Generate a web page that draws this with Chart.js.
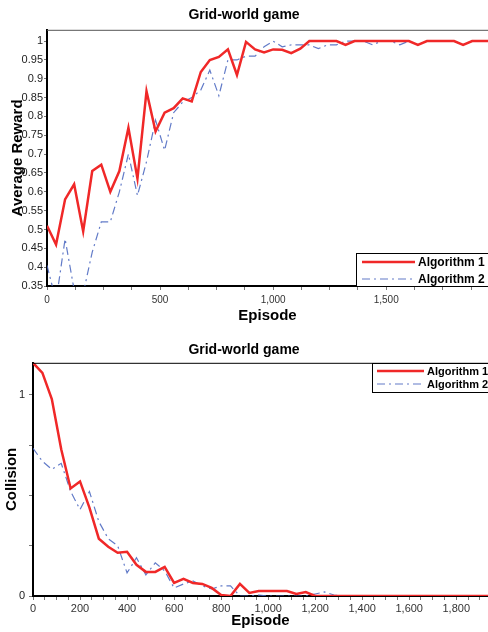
<!DOCTYPE html>
<html>
<head>
<meta charset="utf-8">
<title>Grid-world game</title>
<script src="https://cdn.jsdelivr.net/npm/chart.js@4.4.1/dist/chart.umd.min.js"></script>
<style>
  html, body { margin: 0; padding: 0; background: #fff; overflow: hidden; }
  canvas { display: block; }
</style>
</head>
<body>
<canvas id="reward-chart" width="488" height="330"></canvas>
<canvas id="collision-chart" width="488" height="302"></canvas>
<script>
const episodes = [0, 40, 80, 120, 160, 200, 240, 280, 320, 360, 400, 440, 480, 520, 560, 600, 640, 680, 720, 760,
  800, 840, 880, 920, 960, 1000, 1040, 1080, 1120, 1160, 1200, 1240, 1280, 1320, 1360, 1400, 1440, 1480, 1520, 1560,
  1600, 1640, 1680, 1720, 1760, 1800, 1840, 1880, 1920, 1960];

const seriesLabels = ['Algorithm 1', 'Algorithm 2'];

const rewardAlg1 = [0.51, 0.46, 0.58, 0.62, 0.495, 0.655, 0.672, 0.60, 0.655, 0.77, 0.635, 0.867, 0.76, 0.81, 0.822, 0.848, 0.84, 0.918, 0.95, 0.958,
  0.978, 0.91, 0.998, 0.978, 0.97, 0.978, 0.977, 0.968, 0.98, 1.0, 1.0, 1.0, 1.0, 0.99, 1.0, 1.0, 1.0, 1.0, 1.0, 1.0,
  1.0, 0.99, 1.0, 1.0, 1.0, 1.0, 0.99, 1.0, 1.0, 1.0];
const rewardAlg2 = [0.405, 0.31, 0.475, 0.34, 0.33, 0.44, 0.52, 0.52, 0.60, 0.70, 0.59, 0.68, 0.79, 0.71, 0.81, 0.838, 0.85, 0.87, 0.923, 0.855,
  0.95, 0.95, 0.96, 0.96, 0.985, 1.0, 0.985, 0.99, 0.99, 0.99, 0.98, 0.99, 0.99, 1.0, 1.0, 1.0, 0.99, 1.0, 1.0, 0.99,
  1.0, 0.99, 1.0, 1.0, 1.0, 1.0, 0.99, 1.0, 1.0, 1.0];

const collisionAlg1 = [1.16, 1.11, 0.98, 0.73, 0.535, 0.57, 0.44, 0.285, 0.245, 0.215, 0.22, 0.155, 0.12, 0.12, 0.145, 0.065, 0.085, 0.065, 0.06, 0.04,
  0.005, 0, 0.06, 0.015, 0.025, 0.025, 0.025, 0.025, 0.01, 0.02, 0, 0, 0, 0, 0, 0, 0, 0, 0, 0,
  0, 0, 0, 0, 0, 0, 0, 0, 0, 0];
const collisionAlg2 = [0.735, 0.67, 0.63, 0.66, 0.52, 0.43, 0.52, 0.37, 0.285, 0.25, 0.115, 0.19, 0.105, 0.165, 0.125, 0.04, 0.06, 0.075, 0.05, 0.035,
  0.05, 0.05, 0, 0, 0.005, 0, 0, 0, 0, 0, 0.01, 0.02, 0.005, 0, 0, 0, 0, 0, 0, 0,
  0, 0, 0, 0, 0, 0, 0, 0, 0, 0];

// tick labels that are printed
const rewardXLabels = [0, 500, 1000, 1500];
const rewardYLabels = [0.35, 0.4, 0.45, 0.5, 0.55, 0.6, 0.65, 0.7, 0.75, 0.8, 0.85, 0.9, 0.95, 1];
const collisionXLabels = [0, 200, 400, 600, 800, 1000, 1200, 1400, 1600, 1800];
const collisionYLabels = [0, 1];

Chart.defaults.font.family = "'Liberation Sans', Arial, sans-serif";
Chart.defaults.color = '#222';

function pick(list, v) {
  const r = Math.round(v * 100) / 100;
  return list.includes(r) ? r.toLocaleString('en-US') : '';
}

// tick marks every `step`, starting at `from`, never past the last label
function tickMarks(from, to, step) {
  return scale => {
    const out = [];
    for (let v = from; v <= to + 1e-9; v += step) out.push({ value: Math.round(v * 1000) / 1000 });
    scale.ticks = out;
  };
}

function makeSeries(a, b) {
  return [{
    label: seriesLabels[0],
    data: episodes.map((e, i) => ({ x: e, y: a[i] })),
    borderColor: '#f02828',
    borderWidth: 2.5,
    pointRadius: 0,
    tension: 0
  }, {
    label: seriesLabels[1],
    data: episodes.map((e, i) => ({ x: e, y: b[i] })),
    borderColor: 'rgba(70,100,190,0.85)',
    borderWidth: 1.2,
    borderDash: [8, 4, 2, 4],
    pointRadius: 0,
    tension: 0
  }];
}

// thin frame line on top + boxed legend in the corner
const boxLegend = {
  id: 'boxLegend',
  afterDraw(chart, args, o) {
    const ctx = chart.ctx;
    const area = chart.chartArea;
    ctx.save();
    ctx.strokeStyle = o.frameColor;
    ctx.lineWidth = 1;
    ctx.beginPath();
    ctx.moveTo(area.left, area.top + 0.5);
    ctx.lineTo(area.right, area.top + 0.5);
    ctx.stroke();

    ctx.fillStyle = '#fff';
    ctx.fillRect(o.left, o.top, 200, o.height);
    ctx.strokeStyle = '#000';
    ctx.strokeRect(o.left + 0.5, o.top + 0.5, 200, o.height);

    chart.data.datasets.forEach((ds, i) => {
      const y = o.top + o.rowStart + i * o.rowGap;
      ctx.strokeStyle = ds.borderColor;
      ctx.lineWidth = ds.borderWidth;
      ctx.setLineDash(ds.borderDash || []);
      ctx.beginPath();
      ctx.moveTo(o.lineStart, y);
      ctx.lineTo(o.lineEnd, y);
      ctx.stroke();
      ctx.setLineDash([]);
      ctx.fillStyle = '#000';
      ctx.font = 'bold ' + o.fontSize + "px 'Liberation Sans', Arial, sans-serif";
      ctx.textBaseline = 'middle';
      ctx.textAlign = 'left';
      ctx.fillText(ds.label, o.textX, y + 1);
    });
    ctx.restore();
  }
};

new Chart(document.getElementById('reward-chart'), {
  type: 'line',
  data: { datasets: makeSeries(rewardAlg1, rewardAlg2) },
  plugins: [boxLegend],
  options: {
    responsive: false,
    animation: false,
    devicePixelRatio: 1,
    layout: { padding: 0 },
    plugins: {
      legend: { display: false },
      tooltip: { enabled: false },
      title: {
        display: true,
        text: 'Grid-world game',
        color: '#000',
        font: { size: 14, weight: 'bold' },
        padding: { top: 7, bottom: 6 }
      },
      boxLegend: {
        frameColor: '#555',
        left: 356, top: 253, height: 33,
        rowStart: 9, rowGap: 17,
        lineStart: 362, lineEnd: 415, textX: 418,
        fontSize: 12
      }
    },
    scales: {
      x: {
        type: 'linear',
        min: 0,
        max: 1950,
        afterFit: s => { s.height = 44; },
        afterBuildTicks: tickMarks(0, 1950, 125),
        border: { color: '#000', width: 2 },
        grid: { drawOnChartArea: false, drawTicks: true, tickLength: 4, color: '#777' },
        ticks: {
          autoSkip: false, maxRotation: 0, padding: 4,
          color: '#333', font: { size: 10 },
          callback: v => pick(rewardXLabels, v)
        },
        title: {
          display: true, text: 'Episode', color: '#000',
          font: { size: 15, weight: 'bold' },
          padding: { top: 0, bottom: 5 }
        }
      },
      y: {
        min: 0.35,
        max: 1.03,
        afterFit: s => { s.width = 47; },
        afterBuildTicks: tickMarks(0.35, 1, 0.05),
        border: { color: '#000', width: 2 },
        grid: { drawOnChartArea: false, drawTicks: true, tickLength: 3, color: '#777' },
        ticks: {
          autoSkip: false, padding: 1,
          color: '#222', font: { size: 11 },
          callback: v => pick(rewardYLabels, v)
        },
        title: {
          display: true, text: 'Average Reward', color: '#000',
          font: { size: 15, weight: 'bold' },
          padding: { top: 9, bottom: 0 }
        }
      }
    }
  }
});

new Chart(document.getElementById('collision-chart'), {
  type: 'line',
  data: { datasets: makeSeries(collisionAlg1, collisionAlg2) },
  plugins: [boxLegend],
  options: {
    responsive: false,
    animation: false,
    devicePixelRatio: 1,
    layout: { padding: 0 },
    plugins: {
      legend: { display: false },
      tooltip: { enabled: false },
      title: {
        display: true,
        text: 'Grid-world game',
        color: '#000',
        font: { size: 14, weight: 'bold' },
        padding: { top: 12, bottom: 4 }
      },
      boxLegend: {
        frameColor: '#000',
        left: 372, top: 33, height: 29,
        rowStart: 8, rowGap: 13,
        lineStart: 377, lineEnd: 424, textX: 427,
        fontSize: 11
      }
    },
    scales: {
      x: {
        type: 'linear',
        min: 0,
        max: 1935,
        afterFit: s => { s.height = 36; },
        afterBuildTicks: tickMarks(0, 1935, 50),
        border: { color: '#000', width: 2 },
        grid: { drawOnChartArea: false, drawTicks: true, tickLength: 4, color: '#777' },
        ticks: {
          autoSkip: false, maxRotation: 0, padding: 2,
          color: '#333', font: { size: 11 },
          callback: v => pick(collisionXLabels, v)
        },
        title: {
          display: true, text: 'Episode', color: '#000',
          font: { size: 15, weight: 'bold' },
          padding: { top: 0, bottom: 2 }
        }
      },
      y: {
        min: 0,
        max: 1.16,
        afterFit: s => { s.width = 33; },
        afterBuildTicks: tickMarks(0, 1, 0.25),
        border: { color: '#000', width: 2 },
        grid: { drawOnChartArea: false, drawTicks: true, tickLength: 4, color: '#777' },
        ticks: {
          autoSkip: false, padding: 4,
          color: '#222', font: { size: 11 },
          callback: v => pick(collisionYLabels, v)
        },
        title: {
          display: true, text: 'Collision', color: '#000',
          font: { size: 15, weight: 'bold' },
          padding: { top: 3, bottom: 0 }
        }
      }
    }
  }
});
</script>
</body>
</html>
